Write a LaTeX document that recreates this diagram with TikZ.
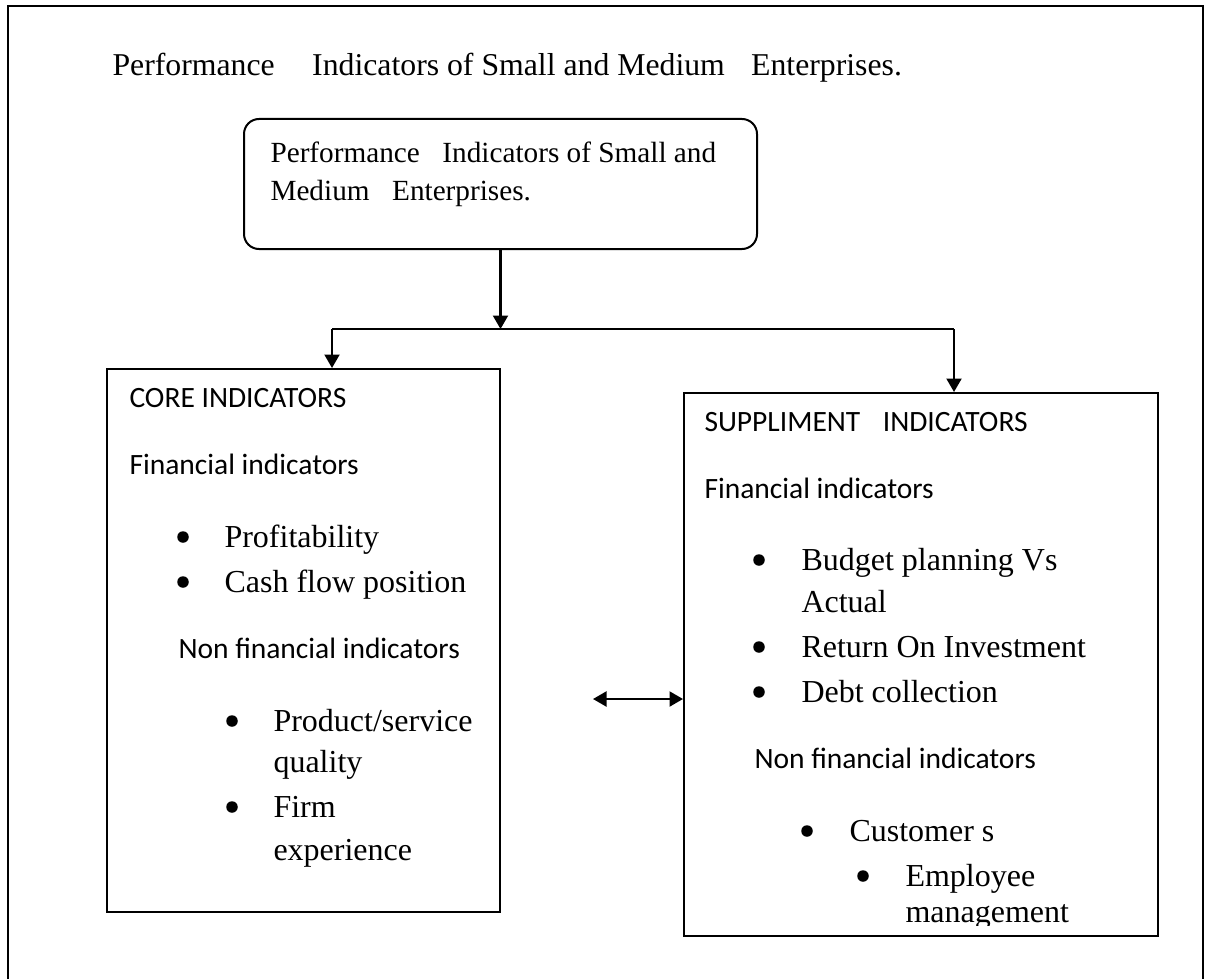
\documentclass[tikz,border=0pt]{standalone}
\usepackage{fontspec}
\setmainfont{Liberation Serif}
\newfontfamily\calibri{Carlito}
\usetikzlibrary{arrows.meta,fit}

\tikzset{
  frm/.style={draw,line width=0.8pt,inner sep=0pt},
  tx/.style={anchor=base west,inner sep=0pt,font=\fontsize{12.8}{15}\selectfont},
  sf/.style={anchor=base west,inner sep=0pt,font=\calibri\fontsize{11.8}{14}\selectfont},
  dot/.style={circle,fill,inner sep=0pt,minimum size=4.6pt},
  tip/.tip={Triangle[length=5.4pt,width=6pt]},
  arr/.style={line width=0.85pt,-tip},
}

\begin{document}
\begin{tikzpicture}[x=0.4pt,y=-0.4pt]
\useasboundingbox (0,0) rectangle (1211,979);
% page frame, open at the bottom
\draw[line width=1pt] (8,979) -- (8,6) -- (1203,6) -- (1203,979);

\node[tx,font=\fontsize{12.7}{15}\selectfont] (title) at (112,76) {Performance\hspace{15pt}Indicators of Small and Medium\hspace{10.5pt}Enterprises.};

% top box
\node[frm,rounded corners=6pt,fit={(244,119) (757,249)}] (sme) {};
\node[tx,font=\fontsize{11.7}{14}\selectfont] (sme1) at (270,162) {Performance\hspace{9pt}Indicators of Small and};
\node[tx,font=\fontsize{11.7}{14}\selectfont] (sme2) at (270,200) {Medium\hspace{9pt}Enterprises.};

% the two indicator boxes
\node[frm,fit={(107,369) (500,912)}] (core) {};
\node[frm,fit={(684,393) (1158,936)}] (supp) {};

% connectors
\coordinate (ltap) at (332,329);
\coordinate (rtap) at (954,329);
\draw[arr] (sme.south) -- (sme.south |- ltap);
\draw[line width=0.85pt] (ltap) -- (rtap);
\draw[arr] (ltap) -- (ltap |- core.north);
\draw[arr] (rtap) -- (rtap |- supp.north);
\coordinate (dl) at (593,699);
\draw[line width=0.85pt,tip-tip] (dl) -- (dl -| supp.west);

% core indicators
\node[sf] (corehd) at (129,407) {CORE INDICATORS};
\node[sf] (corefin) at (129,474) {Financial indicators};
\foreach \y/\t [count=\i] in {547/Profitability,592/Cash flow position}{
  \node[dot] (cbul\i) at (183,\y-10) {};
  \node[tx] (cfin\i) at (224,\y) {\t};
}
\node[sf] (corenon) at (178,658) {Non financial indicators};
\node[dot] (cbul3) at (232,721) {};
\node[tx] (cnon1) at (273,731) {Product/service};
\node[tx] (cnon1b) at (273,772) {quality};
\node[dot] (cbul4) at (232,807) {};
\node[tx] (cnon2) at (273,817) {Firm};
\node[tx] (cnon2b) at (273,860) {experience};

% suppliment indicators
\node[sf] (supphd) at (704,431) {SUPPLIMENT\hspace{9pt}INDICATORS};
\node[sf] (suppfin) at (704,498) {Financial indicators};
\node[dot] (sbul1) at (759,560) {};
\node[tx] (sfin1) at (801,570) {Budget planning Vs};
\node[tx] (sfin1b) at (801,612) {Actual};
\foreach \y/\t [count=\i from 2] in {657/Return On Investment,702/Debt collection}{
  \node[dot] (sbul\i) at (759,\y-10) {};
  \node[tx] (sfin\i) at (801,\y) {\t};
}
\node[sf] (suppnon) at (754,768) {Non financial indicators};
\node[dot] (sbul4) at (807,831) {};
\node[tx] (snon1) at (849,841) {Customer s};
\node[dot] (sbul5) at (863,876) {};
\node[tx] (snon2) at (905,886) {Employee};
\begin{scope}
  \clip (684,393) rectangle (1158,925);
  \node[tx] (snon2b) at (905,922) {management};
\end{scope}
\end{tikzpicture}
\end{document}
